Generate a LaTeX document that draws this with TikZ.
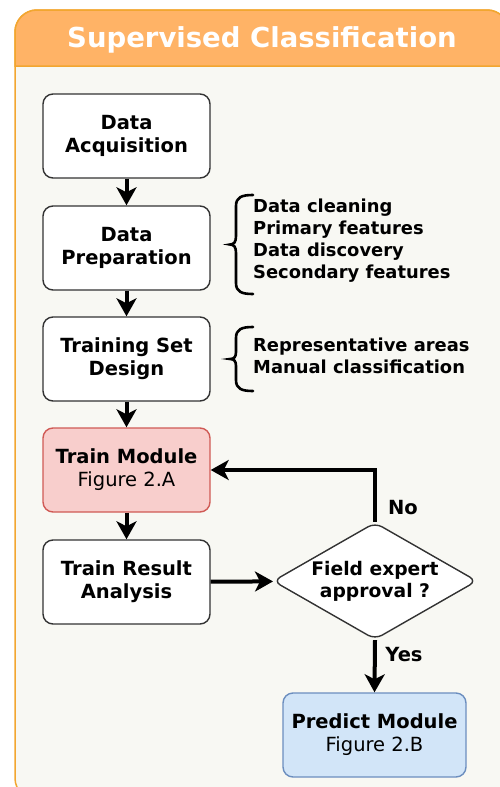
\documentclass[tikz,border=0pt]{standalone}
\usepackage{fontspec}
\setmainfont{DejaVu Sans}
\usetikzlibrary{shapes.geometric,arrows.meta}
\definecolor{bodybg}{HTML}{F8F8F3}
\definecolor{hdrfill}{HTML}{FFB366}
\definecolor{hdrline}{HTML}{F2A630}
\definecolor{redfill}{HTML}{F8CECC}
\definecolor{redline}{HTML}{D05A55}
\definecolor{bluefill}{HTML}{D2E5F8}
\definecolor{blueline}{HTML}{6C8EBF}
\definecolor{boxline}{HTML}{333333}
\tikzset{
  stepbox/.style={draw=boxline, line width=1.4pt, fill=white, rounded corners=10pt,
    minimum width=167pt, minimum height=84pt, align=center, inner sep=0pt,
    font=\fontsize{19.5}{23}\selectfont\bfseries},
  flowarrow/.style={line width=4pt, -{Stealth[length=18pt,width=20pt,inset=5pt]}},
  notes/.style={align=left, anchor=west, inner sep=0pt,
    font=\fontsize{17.9}{22}\selectfont\bfseries},
  bracepath/.style={line width=2.6pt, line cap=round},
  lbl/.style={font=\fontsize{19.5}{22}\selectfont\bfseries, inner sep=0pt}
}
\begin{document}
\begin{tikzpicture}[x=1pt,y=-1pt]
\useasboundingbox (0,0) rectangle (500,787);
\clip (0,0) rectangle (500,787);
% container
\path[fill=bodybg, draw=hdrline, line width=1.5pt, rounded corners=22pt]
  (15,10) rectangle (509,800);
\path[fill=hdrfill, draw=hdrline, line width=1.5pt]
  (15,66) -- (15,32) arc[start angle=180, end angle=90, radius=22pt] -- (487,10)
  arc[start angle=90, end angle=0, radius=22pt] -- (509,66) -- cycle;
\node[text=white, font=\fontsize{27.5}{30}\selectfont\bfseries, inner sep=0pt] (title) at (262,40) {Supervised Classification};
% boxes
\node[stepbox] (acq) at (126.5,136) {Data\\Acquisition};
\node[stepbox] (prep) at (126.5,248) {Data\\Preparation};
\node[stepbox] (tsd) at (126.5,359) {Training Set\\Design};
\node[stepbox, fill=redfill, draw=redline] (train) at (126.5,470) {Train Module\\\mdseries Figure 2.A};
\node[stepbox] (tra) at (126.5,582) {Train Result\\Analysis};
\node[diamond, draw=boxline, line width=1.4pt, fill=white, rounded corners=8pt,
  minimum width=204pt, minimum height=117pt, aspect=1.74, inner sep=0pt, align=center,
  font=\fontsize{18.7}{22}\selectfont\bfseries] (dia) at (375,581) {Field expert\\approval ?};
\node[stepbox, fill=bluefill, draw=blueline, minimum width=183pt] (pred) at (374.5,735) {Predict Module\\\mdseries Figure 2.B};
% arrows
\draw[flowarrow] (acq) -- (prep);
\draw[flowarrow] (prep) -- (tsd);
\draw[flowarrow] (tsd) -- (train);
\draw[flowarrow] (train) -- (tra);
\draw[flowarrow] (tra) -- (dia);
\draw[flowarrow] (dia.north) |- (train.east);
\draw[flowarrow] (dia.south) -- (pred.north);
\node[lbl] (no) at (403,508) {No};
\node[lbl] (yes) at (404,655) {Yes};
% braces
\draw[bracepath] (253,195) .. controls (242,195) and (236,197) .. (236,206) -- (236,236)
  .. controls (236,242) and (234,244.5) .. (230,244.5)
  .. controls (234,244.5) and (236,247) .. (236,253) -- (236,283)
  .. controls (236,292) and (242,294) .. (253,294);
\draw[bracepath] (253,327) .. controls (242,327) and (236,329) .. (236,338) -- (236,352)
  .. controls (236,357) and (234,359) .. (230,359)
  .. controls (234,359) and (236,361) .. (236,366) -- (236,380)
  .. controls (236,389) and (242,391) .. (253,391);
\node[notes] (prepnotes) at (253,241) {Data cleaning\\Primary features\\Data discovery\\Secondary features};
\node[notes] (tsdnotes) at (253,356) {Representative areas\\Manual classification};
\end{tikzpicture}
\end{document}
